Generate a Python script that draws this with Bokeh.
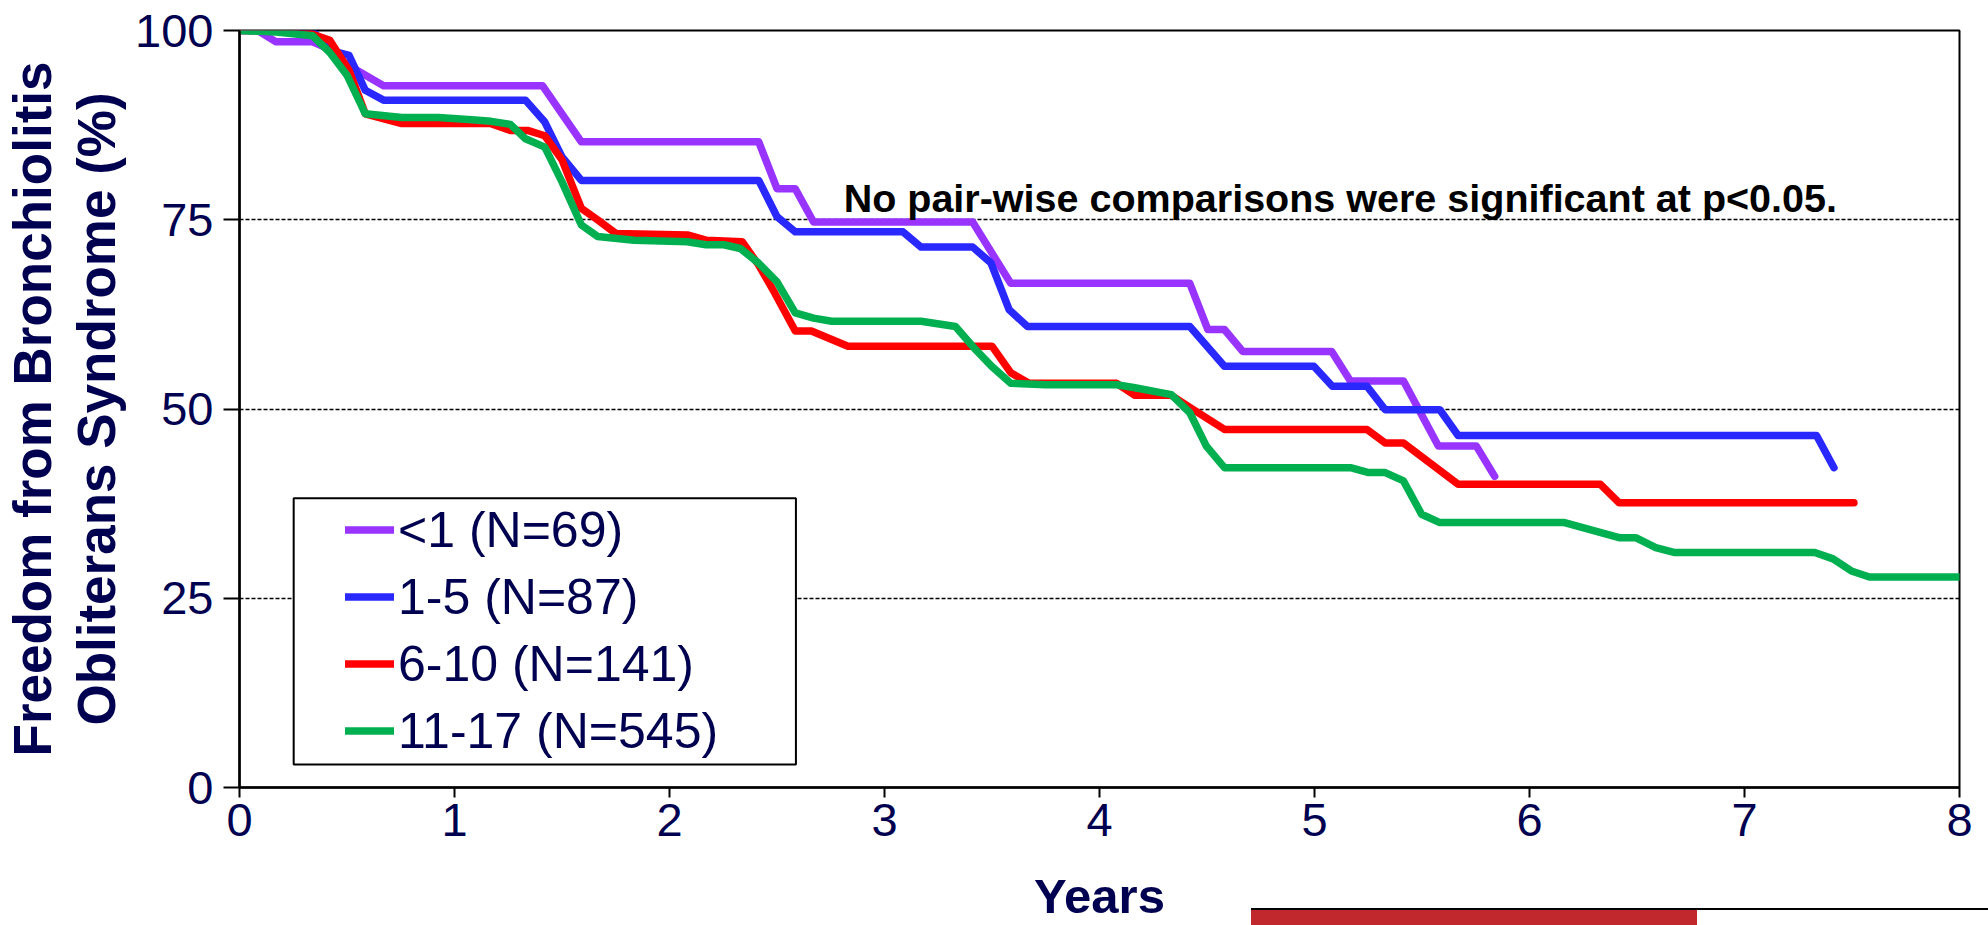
from bokeh.plotting import figure
from bokeh.models import Range1d, Legend, LegendItem, Label, BoxAnnotation, FixedTicker, Div
from bokeh.layouts import column
from bokeh.embed import file_html
from bokeh.resources import INLINE

# ---- data (years, % free from BOS) ----
lt1_t = [0, 0.085, 0.17, 0.34, 0.42, 0.5, 0.67, 1.41, 1.59, 2.415, 2.50, 2.585, 2.67, 3.41,
         3.587, 4.42, 4.504, 4.581, 4.666, 5.08, 5.167, 5.414, 5.576, 5.753, 5.838]
lt1_v = [100, 100, 98.5, 98.5, 97.5, 95.5, 92.7, 92.7, 85.3, 85.3, 79.1, 79.1, 74.7, 74.7,
         66.6, 66.6, 60.5, 60.5, 57.6, 57.6, 53.7, 53.7, 45.1, 45.1, 41.1]

a15_t = [0, 0.33, 0.355, 0.41, 0.43, 0.51, 0.585, 0.67, 1.33, 1.42, 1.50, 1.59, 2.415, 2.50,
         2.585, 3.086, 3.17, 3.41, 3.495, 3.58, 3.665, 4.42, 4.581, 4.997, 5.083, 5.244, 5.329,
         5.583, 5.668, 7.335, 7.416]
a15_v = [100, 100, 99.5, 97.6, 97.3, 96.7, 92.1, 90.8, 90.8, 87.9, 83.3, 80.2, 80.2, 75.4,
         73.4, 73.4, 71.4, 71.4, 69.3, 63.1, 60.9, 60.9, 55.65, 55.65, 53.0, 53.0, 49.9,
         49.9, 46.5, 46.5, 42.25]

a610_t = [0, 0.2, 0.33, 0.42, 0.51, 0.585, 0.755, 1.17, 1.26, 1.34, 1.42, 1.50, 1.59, 1.665,
          1.75, 2.083, 2.17, 2.338, 2.415, 2.49, 2.585, 2.66, 2.83, 3.50, 3.587, 3.672, 4.08,
          4.165, 4.334, 4.42, 4.581, 5.244, 5.329, 5.414, 5.668, 6.33, 6.417, 7.509]
a610_v = [100, 100, 99.6, 98.7, 94.7, 89.0, 87.7, 87.7, 86.8, 86.8, 86.1, 82.9, 76.5, 75.0,
          73.2, 73.0, 72.3, 72.1, 69.0, 65.3, 60.3, 60.3, 58.3, 58.3, 54.8, 53.4, 53.4,
          51.8, 51.8, 50.2, 47.3, 47.3, 45.5, 45.5, 40.05, 40.05, 37.6, 37.6]

a1117_t = [0, 0.17, 0.34, 0.42, 0.50, 0.585, 0.755, 0.925, 1.08, 1.17, 1.26, 1.33, 1.42, 1.50,
           1.59, 1.665, 1.835, 2.083, 2.17, 2.253, 2.33, 2.415, 2.50, 2.585, 2.67, 2.754, 3.17,
           3.33, 3.417, 3.50, 3.587, 3.75, 4.08, 4.165, 4.334, 4.42, 4.497, 4.581, 5.167,
           5.252, 5.329, 5.414, 5.498, 5.583, 6.163, 6.417, 6.494, 6.587, 6.672, 7.327, 7.412,
           7.497, 7.581, 8.0]
a1117_v = [100, 99.8, 99.3, 97.1, 94.1, 89.0, 88.5, 88.5, 88.2, 88.0, 87.6, 85.7, 84.6, 80.0,
           74.3, 72.8, 72.3, 72.1, 71.7, 71.7, 71.2, 69.25, 66.8, 62.7, 62.0, 61.6, 61.6,
           60.9, 58.05, 55.6, 53.4, 53.2, 53.2, 52.8, 51.9, 49.5, 45.1, 42.25, 42.25,
           41.6, 41.6, 40.5, 36.1, 35.0, 35.0, 33.0, 33.0, 31.7, 31.05, 31.05, 30.2,
           28.6, 27.8, 27.8]

labels = ["<1 (N=69)", "1-5 (N=87)", "6-10 (N=141)", "11-17 (N=545)"]
colors = ["#9933FF", "#2929FF", "#FF0000", "#00B050"]
x_ticks = [0, 1, 2, 3, 4, 5, 6, 7, 8]
y_ticks = [0, 25, 50, 75, 100]
note = "No pair-wise comparisons were significant at p<0.05."

NAVY = "#000050"
FONT = "Liberation Sans"

p = figure(width=1988, height=925, output_backend="svg", toolbar_location=None,
           x_range=Range1d(0, 8), y_range=Range1d(0, 100),
           min_border_left=230, min_border_right=29, min_border_top=30, min_border_bottom=136)
p.background_fill_color = "white"
p.border_fill_color = "white"
p.outline_line_color = "black"
p.outline_line_width = 2

# grid
p.xgrid.visible = False
p.ygrid.ticker = FixedTicker(ticks=[25, 50, 75])
p.ygrid.grid_line_color = "black"
p.ygrid.grid_line_dash = "4 2"
p.ygrid.grid_line_width = 1.3

# axes
for ax in (p.xaxis[0], p.yaxis[0]):
    ax.axis_line_color = "black"
    ax.axis_line_width = 2.5
    ax.major_tick_line_color = "black"
    ax.major_tick_line_width = 2
    ax.major_tick_in = 0
    ax.minor_tick_line_color = None
    ax.major_label_text_font = FONT
    ax.major_label_text_color = NAVY
    ax.major_label_text_font_size = "47px"
    ax.axis_label_text_font = FONT
    ax.axis_label_text_color = NAVY
    ax.axis_label_text_font_style = "bold"

p.xaxis.ticker = FixedTicker(ticks=x_ticks)
p.yaxis.ticker = FixedTicker(ticks=y_ticks)
p.xaxis.major_tick_out = 10
p.yaxis.major_tick_out = 16
p.yaxis.major_label_standoff = 10
p.xaxis.major_label_standoff = 6
p.xaxis.axis_label = "Years"
p.xaxis.axis_label_text_font_size = "49px"
p.xaxis.axis_label_standoff = 30
p.yaxis.axis_label = "Freedom from Bronchiolitis\nObliterans Syndrome (%)"
p.yaxis.axis_label_text_font_size = "53px"
p.yaxis.axis_label_text_line_height = 1.08
p.yaxis.axis_label_standoff = 6

# legend frame (white box with black border)
p.add_layout(BoxAnnotation(left=0.252, right=2.588, bottom=3.03, top=38.2,
                           fill_color="white", fill_alpha=1.0,
                           line_color="black", line_alpha=1.0, line_width=2, level="underlay"))

renderers = []
for t, v, c in zip([lt1_t, a15_t, a610_t, a1117_t], [lt1_v, a15_v, a610_v, a1117_v], colors):
    r = p.line(t, v, line_color=c, line_width=7.5, line_cap="round", line_join="round")
    renderers.append(r)

legend = Legend(items=[LegendItem(label=l, renderers=[r]) for l, r in zip(labels, renderers)],
                location=(106, 23), orientation="vertical",
                padding=0, margin=0, spacing=0, label_height=67, glyph_height=67,
                glyph_width=49, label_standoff=4,
                label_text_font=FONT, label_text_font_size="50px", label_text_color=NAVY,
                border_line_alpha=0, background_fill_alpha=0)
p.add_layout(legend, "center")

p.add_layout(Label(x=2.81, y=77.85, text=note, text_font=FONT, text_font_size="39.5px",
                   text_font_style="bold", text_color="black", text_baseline="alphabetic"))

# ISHLT logo strip at the bottom edge (mostly cut off in the reference)
logo = Div(text="", width=737, height=17, margin=(-17, 0, 0, 1251),
           styles={"background": "linear-gradient(to right, #C0282D 0px, #C0282D 446px, #FFFFFF 446px)",
                   "border-top": "2px solid black", "box-sizing": "border-box"})

layout = column(p, logo, spacing=0)
open("out.html", "w").write(file_html(layout, INLINE))
